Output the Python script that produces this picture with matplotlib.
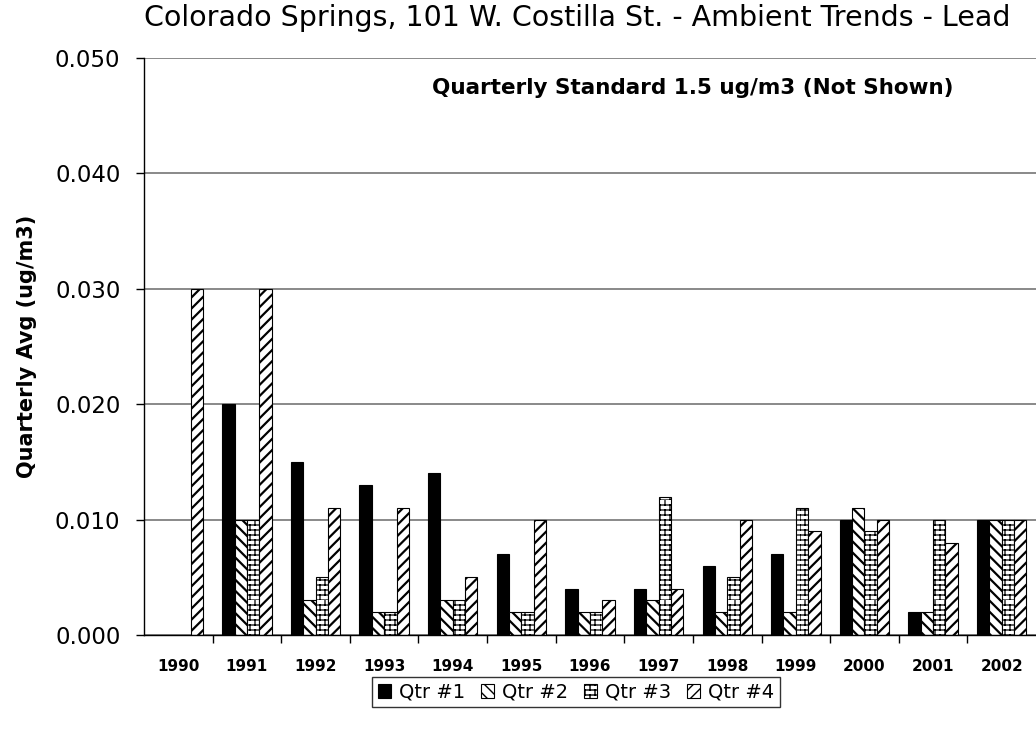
import warnings
import numpy as np
import matplotlib
matplotlib.use("Agg")
import matplotlib.pyplot as plt
from matplotlib import hatch as mhatch
from matplotlib.path import Path

warnings.filterwarnings("ignore")

# ---- data -------------------------------------------------------------
years = ["1990", "1991", "1992", "1993", "1994", "1995", "1996",
         "1997", "1998", "1999", "2000", "2001", "2002"]
qtr1 = [np.nan, 0.020, 0.015, 0.013, 0.014, 0.007, 0.004, 0.004, 0.006, 0.007, 0.010, 0.002, 0.010]
qtr2 = [np.nan, 0.010, 0.003, 0.002, 0.003, 0.002, 0.002, 0.003, 0.002, 0.002, 0.011, 0.002, 0.010]
qtr3 = [np.nan, 0.010, 0.005, 0.002, 0.003, 0.002, 0.002, 0.012, 0.005, 0.011, 0.009, 0.010, 0.010]
qtr4 = [0.030, 0.030, 0.011, 0.011, 0.005, 0.010, 0.003, 0.004, 0.010, 0.009, 0.010, 0.008, 0.010]
series_names = ["Qtr #1", "Qtr #2", "Qtr #3", "Qtr #4"]
y_ticks = [0.000, 0.010, 0.020, 0.030, 0.040, 0.050]


# ---- brick hatch (horizontal courses with staggered joints) -----------
class BrickHatch(mhatch.HatchPatternBase):
    def __init__(self, hatch, density):
        n = hatch.count("b")
        self.rows = 20 * n
        self.cols = 10
        self.num_vertices = (self.rows * 2 + self.rows * self.cols * 2) if n else 0

    def set_vertices_and_codes(self, vertices, codes):
        k = 0
        for i in range(self.rows):
            y0 = i / self.rows
            y1 = (i + 1) / self.rows
            vertices[k] = (0.0, y0); codes[k] = Path.MOVETO; k += 1
            vertices[k] = (1.0, y0); codes[k] = Path.LINETO; k += 1
            off = 0.5 * (i % 2)
            for j in range(self.cols):
                x = (j + off) / self.cols
                vertices[k] = (x, y0); codes[k] = Path.MOVETO; k += 1
                vertices[k] = (x, y1); codes[k] = Path.LINETO; k += 1


mhatch._hatch_types.append(BrickHatch)

plt.rcParams["font.family"] = ["DejaVu Sans"]

fig = plt.figure(figsize=(10.36, 7.33), dpi=100)
ax = fig.add_axes([144 / 1036, 1 - 635 / 733, (1036 - 144) / 1036, (635 - 58) / 733])

x = np.arange(len(years))
w = 0.18
styles = [
    dict(color="black", hatch=None, hlw=1.0),
    dict(color="white", hatch="\\\\\\", hlw=1.6),
    dict(color="white", hatch="b", hlw=0.9),
    dict(color="white", hatch="///", hlw=1.6),
]
for k, (vals, name, st) in enumerate(zip([qtr1, qtr2, qtr3, qtr4], series_names, styles)):
    with plt.rc_context({"hatch.linewidth": st["hlw"], "hatch.color": "black"}):
        bars = ax.bar(x + (k - 1.5) * w, vals, width=w, color=st["color"],
                      edgecolor="black", linewidth=0.8, hatch=st["hatch"],
                      label=name, zorder=3)
    for b in bars:
        if hasattr(b, "set_hatch_linewidth"):
            b.set_hatch_linewidth(st["hlw"])

ax.set_xlim(-0.5, len(years) - 0.5)
ax.set_ylim(0, 0.050)
ax.set_yticks(y_ticks)
ax.set_yticklabels([f"{v:.3f}" for v in y_ticks])
ax.set_xticks(x)
ax.set_xticklabels(years, fontweight="bold")
ax.set_xticks(np.arange(0.5, len(years) - 0.5, 1.0), minor=True)

ax.grid(axis="y", color="#808080", linewidth=1.3, zorder=0)
ax.set_axisbelow(True)
for s in ["top", "right"]:
    ax.spines[s].set_visible(False)
for s in ["left", "bottom"]:
    ax.spines[s].set_color("black")
    ax.spines[s].set_linewidth(1.0)
    ax.spines[s].set_zorder(4)

ax.tick_params(axis="y", direction="out", length=6, width=1, pad=11, labelsize=16.5)
ax.tick_params(axis="x", which="major", length=0, pad=17, labelsize=11)
ax.tick_params(axis="x", which="minor", direction="out", length=6, width=1)

ax.set_ylabel("Quarterly Avg (ug/m3)", fontsize=15, fontweight="bold", labelpad=13)

fig.text(577 / 1036, 1 - 18 / 733, "Colorado Springs, 101 W. Costilla St. - Ambient Trends - Lead",
         ha="center", va="center", fontsize=20.5)
ax.text(693 / 1036, 1 - 88 / 733, "Quarterly Standard 1.5 ug/m3 (Not Shown)",
        transform=fig.transFigure, ha="center", va="center", fontsize=15.5, fontweight="bold")

leg = fig.legend(loc="center", bbox_to_anchor=(576 / 1036, 1 - 692 / 733), ncol=4,
                 fontsize=14, frameon=True, fancybox=False, edgecolor="black",
                 handlelength=0.7, handleheight=0.7, handletextpad=0.4,
                 columnspacing=0.8, borderpad=0.3)
leg.get_frame().set_linewidth(1.0)

fig.savefig("out.png", dpi=100, facecolor="white")
